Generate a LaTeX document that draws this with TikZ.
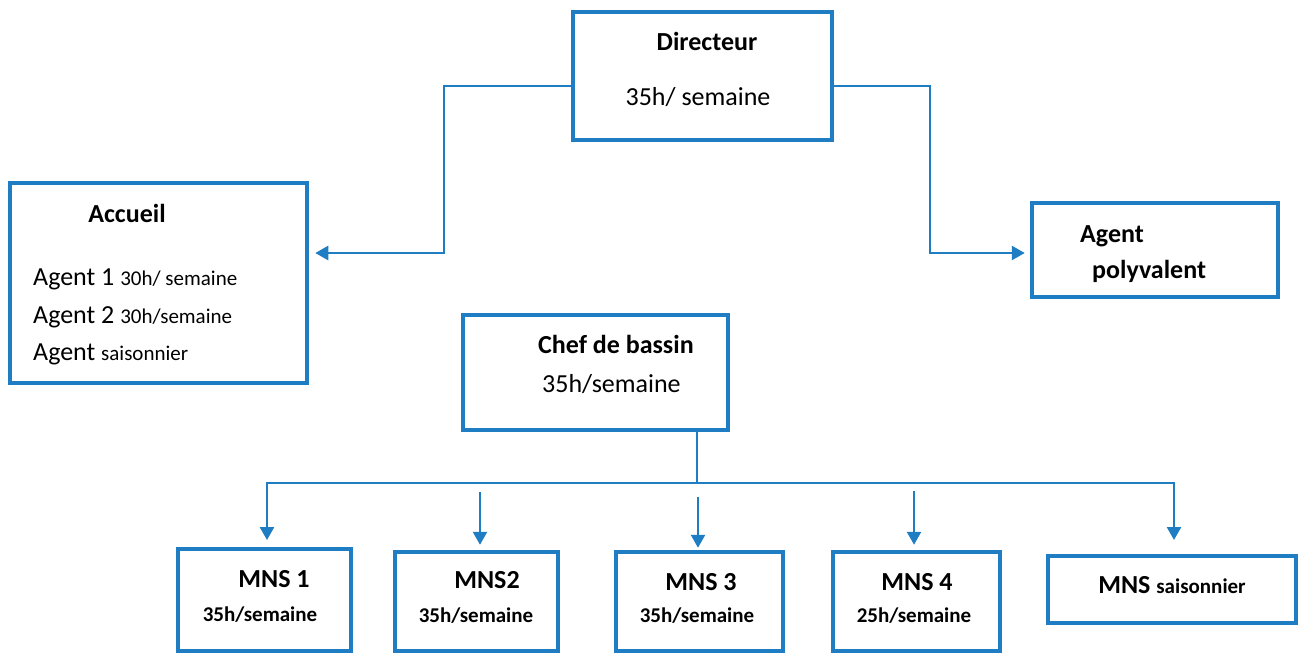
\documentclass[tikz,border=0pt]{standalone}
\usepackage{fontspec}
\setmainfont{Carlito}
\usetikzlibrary{arrows.meta}
\definecolor{orgblue}{RGB}{30,125,195}
\newcommand{\bigsz}{\fontsize{26}{30}\selectfont}
\newcommand{\smallsz}{\fontsize{21}{25}\selectfont}
\tikzset{
  box/.style={draw=orgblue, line width=4.5pt, rectangle, inner sep=0pt, fill=white},
  txt/.style={inner sep=0pt, anchor=base, font=\bigsz},
  txtl/.style={inner sep=0pt, anchor=base west, font=\bigsz},
  conn/.style={draw=orgblue, line width=2.5pt},
  arr/.style={conn, -{Triangle[width=14pt,length=13pt]}}
}
\begin{document}
\begin{tikzpicture}[x=1pt,y=-1pt]
\useasboundingbox (0,0) rectangle (1304,654);
% boxes
\node[box, minimum width=259pt, minimum height=128pt] (dir) at (702.5,76) {};
\node[box, minimum width=297pt, minimum height=200pt] (acc) at (158.5,283) {};
\node[box, minimum width=246pt, minimum height=94pt] (poly) at (1155,250) {};
\node[box, minimum width=265pt, minimum height=115pt] (chef) at (595.5,372.5) {};
\node[box, minimum width=173pt, minimum height=102pt] (m1) at (264.5,600) {};
\node[box, minimum width=163pt, minimum height=99pt] (m2) at (476.5,601.5) {};
\node[box, minimum width=167pt, minimum height=99pt] (m3) at (699.5,601.5) {};
\node[box, minimum width=167pt, minimum height=99pt] (m4) at (916.5,601.5) {};
\node[box, minimum width=248pt, minimum height=67pt] (ms) at (1172,589.5) {};
% texts
\node[txt] (dirT) at (707,50) {\bfseries Directeur};
\node[txt] (dirH) at (698,105) {35h/ semaine};
\node[txt] (accT) at (127,222) {\bfseries Accueil};
\node[txtl] (acc1) at (33,285) {Agent 1 {\smallsz 30h/ semaine}};
\node[txtl] (acc2) at (33,323) {Agent 2 {\smallsz 30h/semaine}};
\node[txtl] (acc3) at (33,360) {Agent {\smallsz saisonnier}};
\node[txtl] (polyA) at (1080,242) {\bfseries Agent};
\node[txtl] (polyB) at (1092,278) {\bfseries polyvalent};
\node[txtl] (chefT) at (538,353) {\bfseries Chef de bassin};
\node[txtl] (chefH) at (542,392) {35h/semaine};
\node[txt] (m1T) at (274,587) {\bfseries MNS 1};
\node[txt, font=\smallsz\bfseries] (m1H) at (260,621) {35h/semaine};
\node[txt] (m2T) at (487,588) {\bfseries MNS2};
\node[txt, font=\smallsz\bfseries] (m2H) at (476,622) {35h/semaine};
\node[txt] (m3T) at (701,590) {\bfseries MNS 3};
\node[txt, font=\smallsz\bfseries] (m3H) at (697,622) {35h/semaine};
\node[txt] (m4T) at (917,590) {\bfseries MNS 4};
\node[txt, font=\smallsz\bfseries] (m4H) at (914,622) {25h/semaine};
\node[txt] (msT) at (1172,593) {\bfseries MNS {\smallsz saisonnier}};
% connector joints
\coordinate (jl1) at (444,86);
\coordinate (jl2) at (444,253);
\coordinate (jr1) at (930,86);
\coordinate (jr2) at (930,253);
\coordinate (bus) at (697,483);
\coordinate (b1) at (267,483);
\coordinate (b5) at (1174,483);
\coordinate (s2) at (480,492);
\coordinate (s3) at (698,497);
\coordinate (s4) at (914,491);
% connectors
\draw[arr] (dir.west |- jl1) -- (jl1) -- (jl2) -- ([xshift=6pt]acc.east |- jl2);
\draw[arr] (dir.east |- jr1) -- (jr1) -- (jr2) -- ([xshift=-5pt]poly.west |- jr2);
\draw[conn] (chef.south -| bus) -- (bus);
\draw[arr] (bus) -- (b1) -- (b1 |- {(0,540)});
\draw[arr] (bus) -- (b5) -- (b5 |- {(0,540)});
\draw[arr] (s2) -- ([yshift=5pt]m2.north -| s2);
\draw[arr] (s3) -- ([yshift=2pt]m3.north -| s3);
\draw[arr] (s4) -- ([yshift=5pt]m4.north -| s4);
\end{tikzpicture}
\end{document}
